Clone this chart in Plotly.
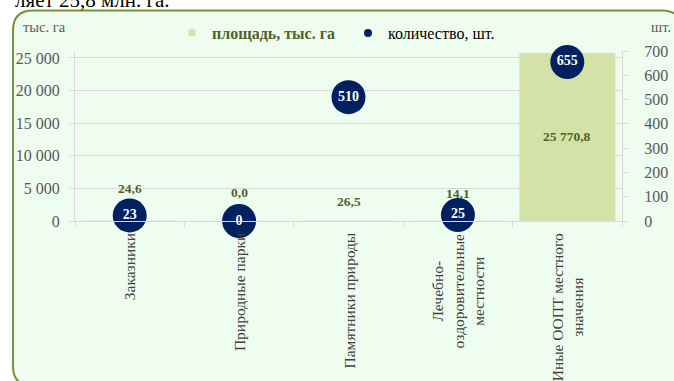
import plotly.graph_objects as go

# ---- data ----
categories = ["Заказники", "Природные парки", "Памятники природы",
              "Лечебно-оздоровительные местности", "Иные ООПТ местного значения"]
category_labels = ["Заказники", "Природные парки", "Памятники природы",
                   "Лечебно-<br>оздоровительные<br>местности",
                   "Иные ООПТ местного<br>значения"]
area_thousand_ha = [24.6, 0.0, 26.5, 14.1, 25770.8]
count_units = [23, 0, 510, 25, 655]
left_ticks = [0, 5000, 10000, 15000, 20000, 25000]
right_ticks = [0, 100, 200, 300, 400, 500, 600, 700]

# label vertical nudges (px), style only
area_label_shift = [32, 29, 19, 27, 0]

# ---- layout geometry (px) ----
W, H = 674, 381
L, R, T, B = 75, 622, 51, 221
SERIF = "Liberation Serif"
BAR_COLOR = "#D4E2A8"
NAVY = "#002060"
OLIVE = "#4F6228"
GRID = "#D9D9D9"
TICKC = "#595959"


def px(x):
    return (x - L) / (R - L)


def py(y):
    return (B - y) / (B - T)


def fmt_area(v):
    s = f"{v:,.1f}"
    return s.replace(",", " ").replace(".", ",")


fig = go.Figure()

fig.add_trace(go.Bar(
    x=categories, y=area_thousand_ha, marker_color=BAR_COLOR,
    showlegend=False, hoverinfo="skip", yaxis="y"))

fig.add_trace(go.Scatter(
    x=categories, y=count_units, yaxis="y2", mode="markers+text",
    marker=dict(size=34, color=NAVY), text=[str(c) for c in count_units],
    textposition="middle center",
    textfont=dict(family=SERIF, size=14, color="white", weight="bold"),
    cliponaxis=False, showlegend=False))

# legend entries
fig.add_trace(go.Scatter(
    x=[None], y=[None], mode="markers",
    marker=dict(symbol="square", size=7, color=BAR_COLOR),
    name='<span style="color:#4F6228"><b>площадь, тыс. га</b></span>'))
fig.add_trace(go.Scatter(
    x=[None], y=[None], mode="markers",
    marker=dict(symbol="circle", size=8, color=NAVY),
    name="количество, шт."))

annotations = []
# area labels
for i, (c, v) in enumerate(zip(categories, area_thousand_ha)):
    if i == len(categories) - 1:
        yv, ys = v / 2, 0
    else:
        yv, ys = v, area_label_shift[i]
    annotations.append(dict(
        x=c, y=yv, xref="x", yref="y", text=f"<b>{fmt_area(v)}</b>",
        showarrow=False, yshift=ys, xanchor="center", yanchor="middle",
        font=dict(family=SERIF, size=13.5, color=OLIVE)))

# category labels
for c, lab in zip(categories, category_labels):
    annotations.append(dict(
        x=c, y=py(231), xref="x", yref="paper", text=lab, textangle=-90,
        showarrow=False, xanchor="center", yanchor="top", align="center",
        font=dict(family=SERIF, size=15.5, color="#404040")))

# axis titles
annotations.append(dict(x=px(21), y=py(27), xref="paper", yref="paper",
                        text="тыс. га", showarrow=False, xanchor="left",
                        yanchor="middle",
                        font=dict(family=SERIF, size=14.5, color=TICKC)))
annotations.append(dict(x=px(649), y=py(27), xref="paper", yref="paper",
                        text="шт.", showarrow=False, xanchor="left",
                        yanchor="middle",
                        font=dict(family=SERIF, size=14.5, color=TICKC)))
# cropped page text above the chart
annotations.append(dict(x=px(13), y=py(14), xref="paper", yref="paper",
                        text="ляет 25,8 млн. га.", showarrow=False,
                        xanchor="left", yanchor="bottom",
                        font=dict(family=SERIF, size=21, color="black")))

# rounded frame
x0, y0, x1, y1, r = 13, 10.5, 682, 386, 20
path = (f"M {px(x0 + r)},{py(y0)} L {px(x1 - r)},{py(y0)} "
        f"Q {px(x1)},{py(y0)} {px(x1)},{py(y0 + r)} "
        f"L {px(x1)},{py(y1 - r)} Q {px(x1)},{py(y1)} {px(x1 - r)},{py(y1)} "
        f"L {px(x0 + r)},{py(y1)} Q {px(x0)},{py(y1)} {px(x0)},{py(y1 - r)} "
        f"L {px(x0)},{py(y0 + r)} Q {px(x0)},{py(y0)} {px(x0 + r)},{py(y0)} Z")

fig.update_layout(
    width=W, height=H,
    margin=dict(l=L, r=W - R, t=T, b=H - B, pad=0, autoexpand=False),
    paper_bgcolor="white", plot_bgcolor="rgba(0,0,0,0)",
    separators=", ",
    bargap=0.122,
    font=dict(family=SERIF, color=TICKC),
    shapes=[dict(type="path", path=path, xref="paper", yref="paper",
                 fillcolor="#EEFDF0", line=dict(color="#77933C", width=2),
                 layer="below")],
    annotations=annotations,
    legend=dict(orientation="h", x=px(172), y=py(33), xanchor="left",
                yanchor="middle", bgcolor="rgba(0,0,0,0)",
                font=dict(family=SERIF, size=16, color="black"),
                entrywidth=131, entrywidthmode="pixels", itemwidth=30),
    xaxis=dict(type="category", showticklabels=False, showline=True,
               linecolor=GRID, linewidth=1, ticks="outside",
               tickson="boundaries", ticklen=5, tickcolor=GRID,
               showgrid=False, zeroline=False, fixedrange=True,
               automargin=False),
    yaxis=dict(range=[0, 26070], tickvals=left_ticks, tickformat=",",
               showline=True, linecolor=GRID, ticks="outside", ticklen=5,
               tickcolor=GRID, gridcolor=GRID, gridwidth=1, zeroline=False,
               ticklabelstandoff=6, automargin=False,
               tickfont=dict(family=SERIF, size=16, color=TICKC)),
    yaxis2=dict(range=[0, 700], tickvals=right_ticks, overlaying="y",
                side="right", showline=True, linecolor=GRID, ticks="outside",
                ticklen=5, tickcolor=GRID, showgrid=False, zeroline=False,
                ticklabelstandoff=13, automargin=False,
                tickfont=dict(family=SERIF, size=16, color=TICKC)),
)

fig.write_html("out.html")
